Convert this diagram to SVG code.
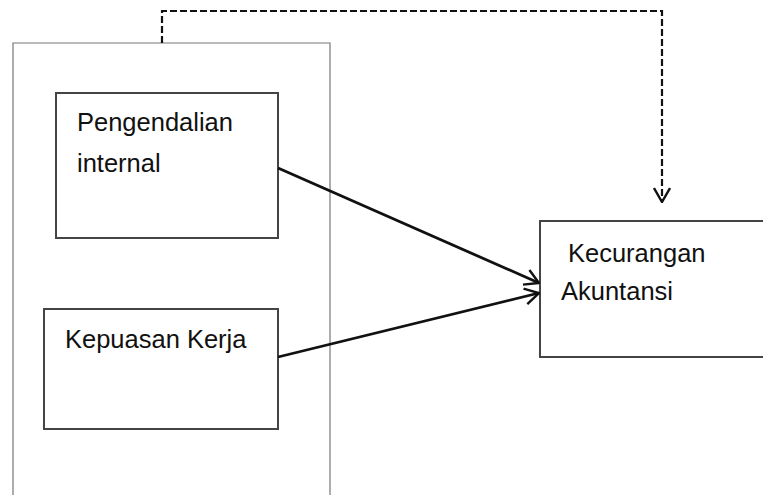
<svg xmlns="http://www.w3.org/2000/svg" width="763" height="495" viewBox="0 0 763 495">
<style>
.box{fill:#fff;stroke:#444;stroke-width:2}
.outer{fill:none;stroke:#777;stroke-width:1.2}
.lbl{font-family:"Liberation Sans",Arial,sans-serif;font-size:25.5px;fill:#111}
.conn{fill:none;stroke:#111;stroke-width:2.8}
.dash{fill:none;stroke:#111;stroke-width:2.2;stroke-dasharray:7,3}
</style>
<defs>
<marker id="open" viewBox="0 0 16 18" refX="15" refY="9" markerWidth="16" markerHeight="18" markerUnits="userSpaceOnUse" orient="auto">
<path d="M1,1 L15,9 L1,17" fill="none" stroke="#111" stroke-width="2.4"/>
</marker>
</defs>
<rect width="763" height="495" fill="#fff"/>
<g id="outer-frame">
<path class="outer" d="M13,495 L13,43 L330,43 L330,495"/>
</g>
<g id="node-pengendalian">
<rect class="box" x="56" y="93" width="222" height="145"/>
<text class="lbl" x="77" y="131">Pengendalian</text>
<text class="lbl" x="77" y="172">internal</text>
</g>
<g id="node-kepuasan">
<rect class="box" x="44" y="309" width="234" height="120"/>
<text class="lbl" x="65" y="348">Kepuasan Kerja</text>
</g>
<g id="node-kecurangan">
<path class="box" d="M764,221 L540,221 L540,357 L764,357"/>
<text class="lbl" x="568" y="262">Kecurangan</text>
<text class="lbl" x="561" y="300">Akuntansi</text>
</g>
<g id="connectors">
<line class="conn" x1="278" y1="168" x2="539" y2="283" marker-end="url(#open)"/>
<line class="conn" x1="278" y1="357" x2="539" y2="293" marker-end="url(#open)"/>
<path class="dash" d="M162,43 L162,11 L662,11 L662,202" marker-end="url(#open)"/>
</g>
</svg>
